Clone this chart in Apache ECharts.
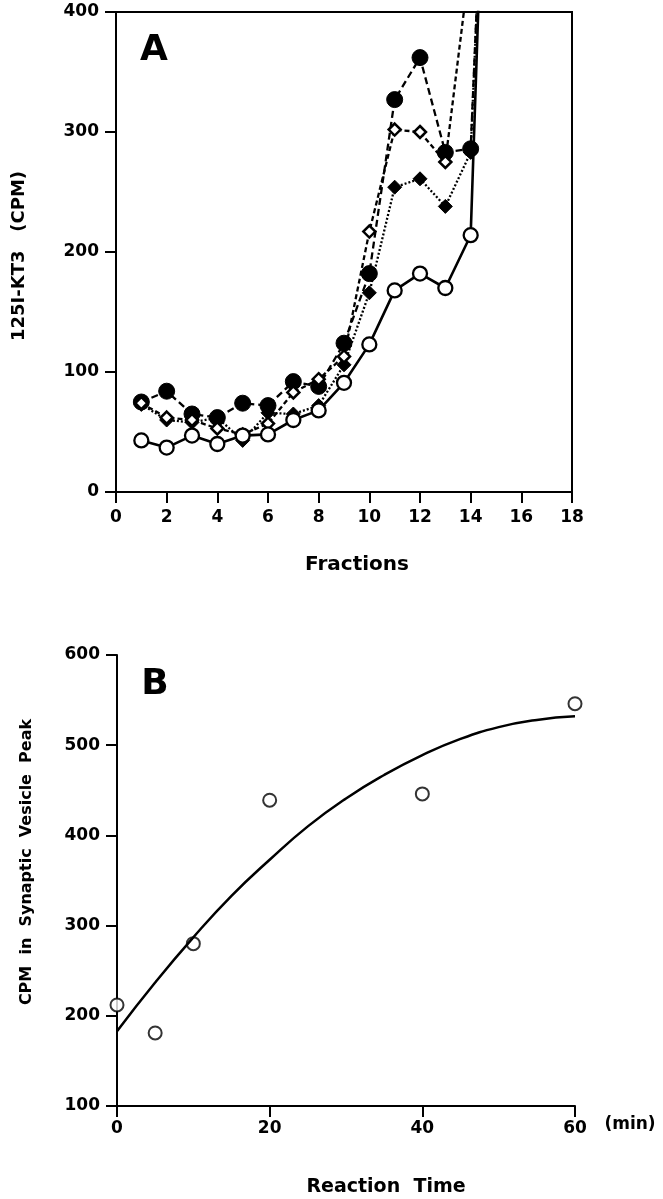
<!DOCTYPE html>
<html>
<head>
<meta charset="utf-8">
<script src="https://cdn.jsdelivr.net/npm/echarts@6/dist/echarts.min.js"></script>
<style>
html,body{margin:0;padding:0;background:#fff;}
#chart{width:663px;height:1199px;}
</style>
</head>
<body>
<div id="chart"></div>
<script>
// ---------- Panel A data ----------
const fractions = [1, 2, 3, 4, 5, 6, 7, 8, 9, 10, 11, 12, 13, 14, 15];
const openCircles    = [43, 37, 47, 40, 47, 48, 60, 68, 91, 123, 168, 182, 170, 214, 840];
const filledCircles  = [75, 84, 65, 62, 74, 72, 92, 88, 124, 182, 327, 362, 283, 286, 780];
const openDiamonds   = [74, 62, 60, 53, 48, 57, 83, 94, 113, 217, 302, 300, 275, 446];
const filledDiamonds = [73, 60, 58, 62, 43, 66, 65, 72, 106, 166, 254, 261, 238, 283, 780];
const fractionTicks = [0, 2, 4, 6, 8, 10, 12, 14, 16, 18];
const cpmTicksA = [0, 100, 200, 300, 400];

// ---------- Panel B data ----------
const reactionTime = [0, 5, 10, 20, 40, 60];
const peakCpm      = [212, 181, 280, 439, 446, 546];
const fitTime = [0, 5, 10, 15, 20, 25, 30, 35, 40, 45, 50, 55, 60];
const fitCpm  = [183, 237, 287, 333, 373, 410, 441, 467, 489, 507, 520, 528, 532];
const timeTicks = [0, 20, 40, 60];
const cpmTicksB = [100, 200, 300, 400, 500, 600];

const FONT = 'DejaVu Sans';
const pairs = (xs, ys) => ys.map((y, i) => [xs[i], y]);

const axisCommon = {
  axisLine: {show: true, onZero: false, lineStyle: {color: '#000', width: 2}},
  axisTick: {show: true, inside: false, length: 11, lineStyle: {color: '#000', width: 2}},
  splitLine: {show: false},
  axisLabel: {color: '#000', fontFamily: FONT, fontWeight: 'bold', fontSize: 17}
};

const chart = echarts.init(document.getElementById('chart'), null, {renderer: 'canvas'});

const option = {
  animation: false,
  backgroundColor: '#fff',
  grid: [
    {left: 116, top: 12, width: 456, height: 480, show: true, borderColor: '#000', borderWidth: 2, backgroundColor: 'transparent'},
    {left: 117, top: 655, width: 458, height: 451, show: false}
  ],
  xAxis: [
    Object.assign({}, axisCommon, {
      gridIndex: 0, type: 'value', min: fractionTicks[0], max: fractionTicks[fractionTicks.length - 1], interval: 2,
      axisLabel: Object.assign({}, axisCommon.axisLabel, {margin: 17})
    }),
    Object.assign({}, axisCommon, {
      gridIndex: 1, type: 'value', min: timeTicks[0], max: timeTicks[timeTicks.length - 1], interval: 20,
      axisLabel: Object.assign({}, axisCommon.axisLabel, {margin: 14})
    })
  ],
  yAxis: [
    Object.assign({}, axisCommon, {
      gridIndex: 0, type: 'value', min: cpmTicksA[0], max: cpmTicksA[cpmTicksA.length - 1], interval: 100,
      axisLabel: Object.assign({}, axisCommon.axisLabel, {margin: 17})
    }),
    Object.assign({}, axisCommon, {
      gridIndex: 1, type: 'value', min: cpmTicksB[0], max: cpmTicksB[cpmTicksB.length - 1], interval: 100,
      axisLabel: Object.assign({}, axisCommon.axisLabel, {margin: 17})
    })
  ],
  series: [
    {
      name: 'filled circles', type: 'line', xAxisIndex: 0, yAxisIndex: 0, clip: true,
      data: pairs(fractions, filledCircles),
      symbol: 'circle', symbolSize: 16,
      itemStyle: {color: '#000', borderColor: '#000', borderWidth: 1},
      lineStyle: {color: '#000', width: 2.3, type: [7, 4]}
    },
    {
      name: 'filled diamonds', type: 'line', xAxisIndex: 0, yAxisIndex: 0, clip: true,
      data: pairs(fractions, filledDiamonds),
      symbol: 'diamond', symbolSize: 14,
      itemStyle: {color: '#000', borderColor: '#000', borderWidth: 1},
      lineStyle: {color: '#000', width: 2.3, type: [2, 2]}
    },
    {
      name: 'open diamonds', type: 'line', xAxisIndex: 0, yAxisIndex: 0, clip: true,
      data: pairs(fractions, openDiamonds),
      symbol: 'diamond', symbolSize: 12,
      itemStyle: {color: '#fff', borderColor: '#000', borderWidth: 2.5},
      lineStyle: {color: '#000', width: 2.3, type: [5, 3]}
    },
    {
      name: 'open circles', type: 'line', xAxisIndex: 0, yAxisIndex: 0, clip: true,
      data: pairs(fractions, openCircles),
      symbol: 'circle', symbolSize: 14,
      itemStyle: {color: '#fff', borderColor: '#000', borderWidth: 2.3},
      lineStyle: {color: '#000', width: 2.6, type: 'solid'}
    },
    {
      name: 'fit', type: 'line', xAxisIndex: 1, yAxisIndex: 1,
      data: pairs(fitTime, fitCpm), smooth: true, showSymbol: false, symbol: 'none',
      lineStyle: {color: '#000', width: 2.5}
    },
    {
      name: 'peak', type: 'scatter', xAxisIndex: 1, yAxisIndex: 1,
      data: pairs(reactionTime, peakCpm),
      symbol: 'circle', symbolSize: 13,
      itemStyle: {color: '#fff', borderColor: '#000', borderWidth: 2}
    }
  ],
  graphic: [
    {type: 'text', x: 154, y: 51, style: {text: 'A', font: 'bold 36px "' + FONT + '"', fill: '#000', textAlign: 'center', textVerticalAlign: 'middle'}},
    {type: 'text', x: 155, y: 685, style: {text: 'B', font: 'bold 36px "' + FONT + '"', fill: '#000', textAlign: 'center', textVerticalAlign: 'middle'}},
    {type: 'text', x: 19, y: 256, rotation: Math.PI / 2, style: {text: '125I-KT3   (CPM)', font: 'bold 18px "' + FONT + '"', fill: '#000', textAlign: 'center', textVerticalAlign: 'middle'}},
    {type: 'text', x: 357, y: 565, style: {text: 'Fractions', font: 'bold 20px "' + FONT + '"', fill: '#000', textAlign: 'center', textVerticalAlign: 'middle'}},
    {type: 'text', x: 27, y: 862, rotation: Math.PI / 2, style: {text: 'CPM  in  Synaptic  Vesicle  Peak', font: 'bold 16px "' + FONT + '"', fill: '#000', textAlign: 'center', textVerticalAlign: 'middle'}},
    {type: 'text', x: 386, y: 1187, style: {text: 'Reaction  Time', font: 'bold 19px "' + FONT + '"', fill: '#000', textAlign: 'center', textVerticalAlign: 'middle'}},
    {type: 'text', x: 630, y: 1125, style: {text: '(min)', font: 'bold 17px "' + FONT + '"', fill: '#000', textAlign: 'center', textVerticalAlign: 'middle'}}
  ]
};
chart.setOption(option);
</script>
</body>
</html>
